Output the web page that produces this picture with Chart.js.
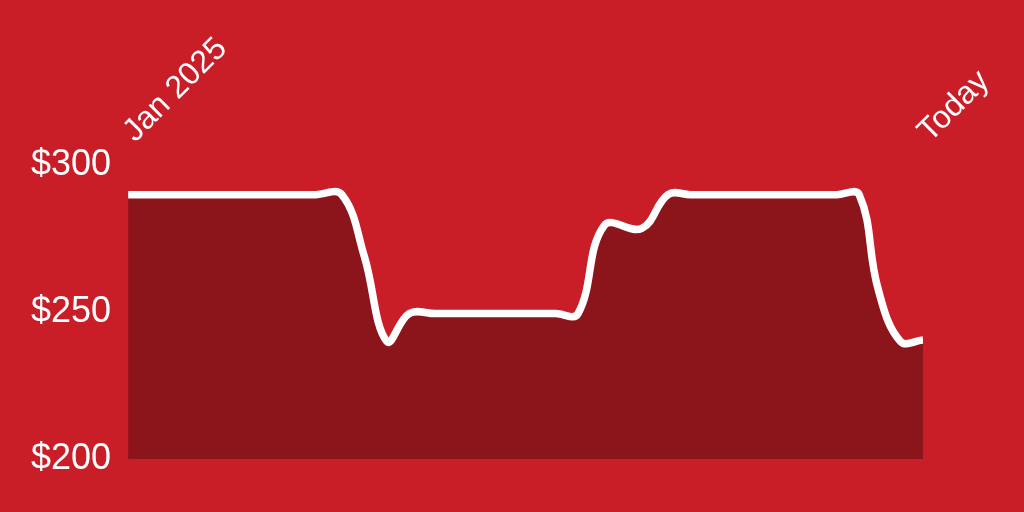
<!DOCTYPE html>
<html lang="en">
<head>
    <meta charset="UTF-8" />
    <title>Price since Jan 2025</title>
    <script src="https://cdn.jsdelivr.net/npm/chart.js"></script>
    <style>
        html, body { margin: 0; padding: 0; background: #c91d28; }
        #wrap { width: 1024px; height: 512px; }
    </style>
</head>
<body>
    <div id="wrap"><canvas id="priceChart"></canvas></div>

    <script>
        // days since 1 Jan 2025, and price on that day
        const days   = [0,   50,  57,  63,  69,  75,    82,    114,   120,   127,   137,   144, 150, 189, 195, 200, 206, 212];
        const prices = [290, 290, 290, 269, 240, 249.5, 249.5, 249.5, 249.5, 279.5, 278.5, 290, 290, 290, 290, 258, 240, 240.5];

        const xTickLabels = ['Jan 2025', 'Today'];
        const yTicks = [200, 250, 300];

        const points = days.map((d, i) => ({ x: d, y: prices[i] }));
        const family = 'Liberation Sans, Arial, sans-serif';

        new Chart(document.getElementById('priceChart'), {
            type: 'line',
            data: {
                datasets: [{
                    data: points,
                    borderColor: '#ffffff',
                    borderWidth: 7.5,
                    backgroundColor: '#8b151b',
                    fill: 'start',
                    tension: 0.4,
                    pointRadius: 0
                }]
            },
            options: {
                responsive: true,
                maintainAspectRatio: false,
                animation: false,
                layout: { padding: { left: 14, top: 15, right: 101, bottom: 53 } },
                plugins: { legend: { display: false }, tooltip: { enabled: false } },
                scales: {
                    x: {
                        type: 'linear',
                        position: 'top',
                        min: days[0],
                        max: days[days.length - 1],
                        border: { display: false },
                        grid: { display: false, drawTicks: false },
                        afterBuildTicks: (axis) => {
                            axis.ticks = [{ value: axis.min }, { value: axis.max }];
                        },
                        ticks: {
                            color: '#ffffff',
                            font: { family: family, size: 32 },
                            padding: 15,
                            labelOffset: 28,
                            minRotation: 45,
                            maxRotation: 45,
                            autoSkip: false,
                            callback: (value, index) => xTickLabels[index]
                        }
                    },
                    y: {
                        min: yTicks[0],
                        max: yTicks[yTicks.length - 1],
                        border: { display: false },
                        grid: { display: false, drawTicks: false },
                        afterBuildTicks: (axis) => {
                            axis.ticks = yTicks.map(v => ({ value: v }));
                        },
                        ticks: {
                            color: '#ffffff',
                            font: { family: family, size: 36 },
                            padding: 17,
                            callback: (value) => '$' + value
                        }
                    }
                }
            }
        });
    </script>
</body>
</html>
